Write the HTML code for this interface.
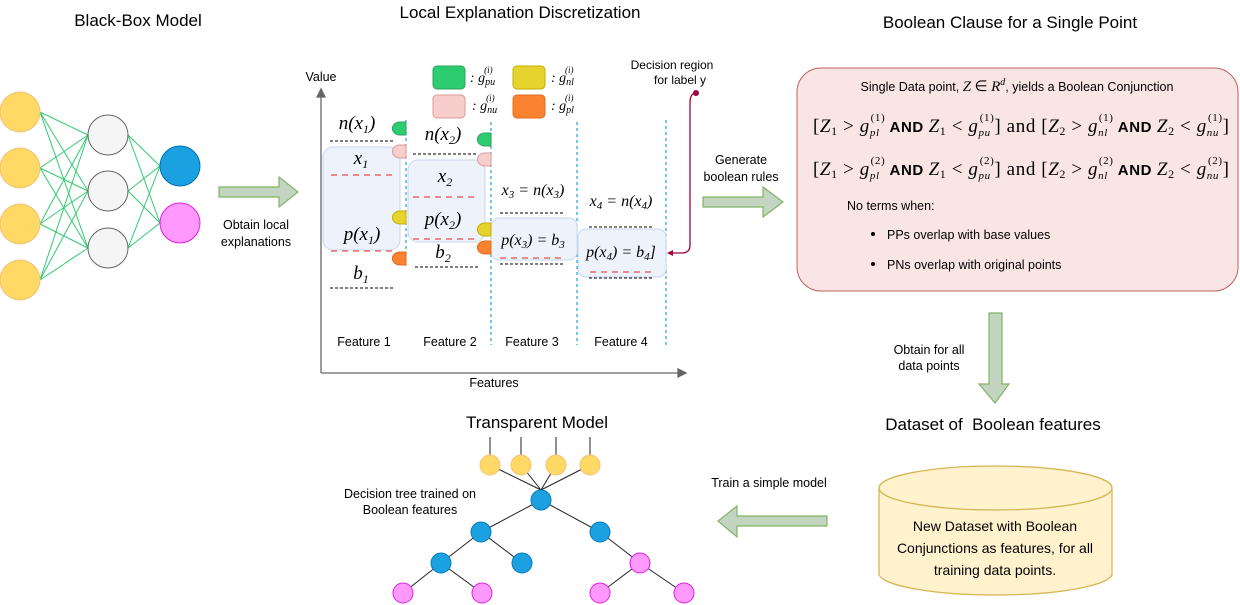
<!DOCTYPE html>
<html><head><meta charset="utf-8"><style>
body{margin:0;background:#fff}
svg{display:block;font-family:"Liberation Sans",sans-serif}
.m{font-family:"Liberation Serif",serif;font-style:italic}
.r{font-family:"Liberation Serif",serif}
.b{font-family:"Liberation Sans",sans-serif;font-style:normal;font-weight:bold}
</style></head><body>
<svg width="1240" height="605" viewBox="0 0 1240 605">
<text x="138" y="26" font-size="17" text-anchor="middle">Black-Box Model</text>
<text x="520" y="18" font-size="17" text-anchor="middle">Local Explanation Discretization</text>
<text x="1010" y="28" font-size="17" text-anchor="middle">Boolean Clause for a Single Point</text>
<text x="537" y="428" font-size="17" text-anchor="middle">Transparent Model</text>
<text x="993" y="430" font-size="17" text-anchor="middle">Dataset of&#160; Boolean features</text>

<g stroke="#2ecc71" stroke-width="1">
<line x1="40" y1="112" x2="88" y2="135"/><line x1="40" y1="112" x2="88" y2="191"/><line x1="40" y1="112" x2="88" y2="248"/>
<line x1="40" y1="168" x2="88" y2="135"/><line x1="40" y1="168" x2="88" y2="191"/><line x1="40" y1="168" x2="88" y2="248"/>
<line x1="40" y1="224" x2="88" y2="135"/><line x1="40" y1="224" x2="88" y2="191"/><line x1="40" y1="224" x2="88" y2="248"/>
<line x1="40" y1="280" x2="88" y2="135"/><line x1="40" y1="280" x2="88" y2="191"/><line x1="40" y1="280" x2="88" y2="248"/>
<line x1="128" y1="135" x2="160" y2="166"/><line x1="128" y1="135" x2="160" y2="223"/>
<line x1="128" y1="191" x2="160" y2="166"/><line x1="128" y1="191" x2="160" y2="223"/>
<line x1="128" y1="248" x2="160" y2="166"/><line x1="128" y1="248" x2="160" y2="223"/>
</g>
<g fill="#ffd966" stroke="#f5c17a" stroke-width="1">
<circle cx="20" cy="112" r="20"/><circle cx="20" cy="168" r="20"/><circle cx="20" cy="224" r="20"/><circle cx="20" cy="280" r="20"/>
</g>
<g fill="#f5f5f5" stroke="#666">
<circle cx="108" cy="135" r="20"/><circle cx="108" cy="191" r="20"/><circle cx="108" cy="248" r="20"/>
</g>
<circle cx="180" cy="166" r="20" fill="#1ba1e2" stroke="#006eaf"/>
<circle cx="180" cy="223" r="20" fill="#ff99ff" stroke="#e020e0"/>

<g fill="#c3d5c0" stroke="#82b366" stroke-width="1.2">
<polygon points="219,187 279,187 279,177 298,192 279,207 279,197 219,197"/>
<polygon points="703,197 763,197 763,187 783,202 763,217 763,207 703,207"/>
<polygon points="989,313 1002,313 1002,384 1009,384 995,403 979,384 989,384"/>
<polygon points="827,516 737,516 737,506 718,521 737,537 737,526 827,526"/>
</g>
<text x="256" y="229" font-size="12.5" text-anchor="middle">Obtain local</text>
<text x="256" y="246" font-size="12.5" text-anchor="middle">explanations</text>
<text x="741" y="164" font-size="12.5" text-anchor="middle">Generate</text>
<text x="741" y="181" font-size="12.5" text-anchor="middle">boolean rules</text>
<text x="929" y="354" font-size="12.5" text-anchor="middle">Obtain for all</text>
<text x="929" y="370" font-size="12.5" text-anchor="middle">data points</text>
<text x="769" y="487" font-size="12.5" text-anchor="middle">Train a simple model</text>

<g stroke="#666" stroke-width="1.3" fill="#666">
<line x1="321" y1="373" x2="321" y2="95"/><polygon points="317,97 321,89 325,97"/>
<line x1="321" y1="373" x2="680" y2="373"/><polygon points="678,369 686,373 678,377"/>
</g>
<text x="321" y="81" font-size="12.5" text-anchor="middle">Value</text>
<text x="494" y="387" font-size="12.5" text-anchor="middle">Features</text>
<g stroke="#1ba1e2" stroke-width="1.2" stroke-dasharray="3,3">
<line x1="406" y1="120" x2="406" y2="265"/>
<line x1="491" y1="122" x2="491" y2="345"/>
<line x1="577" y1="122" x2="577" y2="345"/>
<line x1="666" y1="120" x2="666" y2="345"/>
</g>
<g fill="#eef3fb" stroke="#c7d6ee" stroke-width="1">
<rect x="323" y="147" width="77" height="103" rx="10"/>
<rect x="408" y="160" width="77" height="82" rx="10"/>
<rect x="491" y="218" width="86" height="42" rx="8"/>
<rect x="578" y="229" width="88" height="48" rx="8"/>
</g>
<g stroke="#000" stroke-width="1" stroke-dasharray="3,2">
<line x1="330" y1="141" x2="394" y2="141"/>
<line x1="330" y1="288" x2="394" y2="288"/>
<line x1="413" y1="154" x2="478" y2="154"/>
<line x1="415" y1="267" x2="478" y2="267"/>
<line x1="500" y1="213" x2="563" y2="213"/>
<line x1="500" y1="264" x2="563" y2="264"/>
<line x1="589" y1="227" x2="653" y2="227"/>
<line x1="589" y1="278" x2="653" y2="278"/>
</g>
<g stroke="#ea6b66" stroke-width="1.5" stroke-dasharray="6,5">
<line x1="331" y1="175" x2="396" y2="175"/>
<line x1="331" y1="251" x2="396" y2="251"/>
<line x1="413" y1="197" x2="478" y2="197"/>
<line x1="413" y1="239" x2="478" y2="239"/>
<line x1="500" y1="258" x2="566" y2="258"/>
<line x1="590" y1="272" x2="656" y2="272"/>
</g>
<g stroke-width="1">
<path d="M406,122 h-6 a7,6 0 0 0 0,13 h6z" fill="#2ecc71" stroke="#2aa55e"/>
<path d="M406,145 h-6 a7,6 0 0 0 0,13 h6z" fill="#f8cecc" stroke="#d99"/>
<path d="M406,211 h-6 a7,6 0 0 0 0,13 h6z" fill="#e6d32e" stroke="#c4b000"/>
<path d="M406,252 h-6 a7,6 0 0 0 0,13 h6z" fill="#fa8230" stroke="#e06d20"/>
<path d="M491,133 h-6 a7,6 0 0 0 0,13 h6z" fill="#2ecc71" stroke="#2aa55e"/>
<path d="M491,153 h-6 a7,6 0 0 0 0,13 h6z" fill="#f8cecc" stroke="#d99"/>
<path d="M491,223 h-6 a7,6 0 0 0 0,13 h6z" fill="#e6d32e" stroke="#c4b000"/>
<path d="M491,241 h-6 a7,6 0 0 0 0,13 h6z" fill="#fa8230" stroke="#e06d20"/>
</g>
<g font-size="19">
<text x="357" y="129" class="m" text-anchor="middle">n(x<tspan font-size="12" dy="4">1</tspan><tspan dy="-4">)</tspan></text>
<text x="361" y="164" class="m" text-anchor="middle">x<tspan font-size="12" dy="4">1</tspan></text>
<text x="362" y="240" class="m" text-anchor="middle">p(x<tspan font-size="12" dy="4">1</tspan><tspan dy="-4">)</tspan></text>
<text x="361" y="279" class="m" text-anchor="middle">b<tspan font-size="12" dy="4">1</tspan></text>
<text x="443" y="140" class="m" text-anchor="middle">n(x<tspan font-size="12" dy="4">2</tspan><tspan dy="-4">)</tspan></text>
<text x="445" y="182" class="m" text-anchor="middle">x<tspan font-size="12" dy="4">2</tspan></text>
<text x="443" y="225" class="m" text-anchor="middle">p(x<tspan font-size="12" dy="4">2</tspan><tspan dy="-4">)</tspan></text>
<text x="443" y="258" class="m" text-anchor="middle">b<tspan font-size="12" dy="4">2</tspan></text>
<text x="533" y="195" font-size="16" class="m" text-anchor="middle">x<tspan font-size="11" dy="3">3</tspan><tspan dy="-3"> = n(x</tspan><tspan font-size="11" dy="3">3</tspan><tspan dy="-3">)</tspan></text>
<text x="533" y="245" font-size="16" class="m" text-anchor="middle">p(x<tspan font-size="11" dy="3">3</tspan><tspan dy="-3">) = b</tspan><tspan font-size="11" dy="3">3</tspan></text>
<text x="621" y="206" font-size="16" class="m" text-anchor="middle">x<tspan font-size="11" dy="3">4</tspan><tspan dy="-3"> = n(x</tspan><tspan font-size="11" dy="3">4</tspan><tspan dy="-3">)</tspan></text>
<text x="621" y="257" font-size="16" class="m" text-anchor="middle">p(x<tspan font-size="11" dy="3">4</tspan><tspan dy="-3">) = b</tspan><tspan font-size="11" dy="3">4</tspan><tspan dy="-3">]</tspan></text>
</g>
<g font-size="12.5" text-anchor="middle">
<text x="364" y="346">Feature 1</text><text x="450" y="346">Feature 2</text>
<text x="532" y="346">Feature 3</text><text x="621" y="346">Feature 4</text>
</g>
<rect x="433" y="66" width="32" height="23" rx="4" fill="#2ecc71" stroke="#2aa55e"/>
<rect x="513" y="66" width="32" height="23" rx="4" fill="#e6d32e" stroke="#c4b000"/>
<rect x="433" y="95" width="32" height="23" rx="4" fill="#f8cecc" stroke="#d99"/>
<rect x="513" y="95" width="32" height="23" rx="4" fill="#fa8230" stroke="#e06d20"/>
<g font-size="14" class="m">
<text x="470" y="82">: g<tspan font-size="10" dy="3">pu</tspan><tspan font-size="9" dx="-11" dy="-12">(i)</tspan></text>
<text x="551" y="82">: g<tspan font-size="10" dy="3">nl</tspan><tspan font-size="9" dx="-9" dy="-12">(i)</tspan></text>
<text x="472" y="110">: g<tspan font-size="10" dy="3">nu</tspan><tspan font-size="9" dx="-11" dy="-12">(i)</tspan></text>
<text x="551" y="110">: g<tspan font-size="10" dy="3">pl</tspan><tspan font-size="9" dx="-9" dy="-12">(i)</tspan></text>
</g>
<text x="672" y="69" font-size="12" text-anchor="middle">Decision region</text>
<text x="680" y="84" font-size="12" text-anchor="middle">for label y</text>
<path d="M696,93 Q690,93 690,103 L690,245 Q690,253 682,253 L670,253" fill="none" stroke="#a50040" stroke-width="1.3"/>
<circle cx="696" cy="93" r="3" fill="#a50040"/>
<polygon points="667,253 673,250 673,256" fill="#a50040"/>

<rect x="797" y="68" width="441" height="223" rx="24" fill="#fae5e5" stroke="#c06060" stroke-width="1"/>
<text x="1017" y="91" font-size="12.5" text-anchor="middle">Single Data point, <tspan class="m" font-size="15">Z</tspan> <tspan class="r" font-size="15">∈</tspan> <tspan class="m" font-size="15">R</tspan><tspan class="m" font-size="10" dy="-6">d</tspan><tspan dy="6">, yields a Boolean Conjunction</tspan></text>
<g font-size="19" class="r">
<text x="813" y="132" textLength="416" lengthAdjust="spacing">[<tspan class="m">Z</tspan><tspan font-size="12" dy="3">1</tspan><tspan dy="-3"> &gt; </tspan><tspan class="m">g</tspan><tspan font-size="11" class="m" dy="4">pl</tspan><tspan font-size="11" dx="-9" dy="-15">(1)</tspan><tspan dy="11" class="b" font-size="15"> AND </tspan><tspan class="m">Z</tspan><tspan font-size="12" dy="3">1</tspan><tspan dy="-3"> &lt; </tspan><tspan class="m">g</tspan><tspan font-size="11" class="m" dy="4">pu</tspan><tspan font-size="11" dx="-11" dy="-15">(1)</tspan><tspan dy="11">] and [</tspan><tspan class="m">Z</tspan><tspan font-size="12" dy="3">2</tspan><tspan dy="-3"> &gt; </tspan><tspan class="m">g</tspan><tspan font-size="11" class="m" dy="4">nl</tspan><tspan font-size="11" dx="-9" dy="-15">(1)</tspan><tspan dy="11" class="b" font-size="15"> AND </tspan><tspan class="m">Z</tspan><tspan font-size="12" dy="3">2</tspan><tspan dy="-3"> &lt; </tspan><tspan class="m">g</tspan><tspan font-size="11" class="m" dy="4">nu</tspan><tspan font-size="11" dx="-11" dy="-15">(1)</tspan><tspan dy="11">]</tspan></text>
<text x="813" y="175" textLength="416" lengthAdjust="spacing">[<tspan class="m">Z</tspan><tspan font-size="12" dy="3">1</tspan><tspan dy="-3"> &gt; </tspan><tspan class="m">g</tspan><tspan font-size="11" class="m" dy="4">pl</tspan><tspan font-size="11" dx="-9" dy="-15">(2)</tspan><tspan dy="11" class="b" font-size="15"> AND </tspan><tspan class="m">Z</tspan><tspan font-size="12" dy="3">1</tspan><tspan dy="-3"> &lt; </tspan><tspan class="m">g</tspan><tspan font-size="11" class="m" dy="4">pu</tspan><tspan font-size="11" dx="-11" dy="-15">(2)</tspan><tspan dy="11">] and [</tspan><tspan class="m">Z</tspan><tspan font-size="12" dy="3">2</tspan><tspan dy="-3"> &gt; </tspan><tspan class="m">g</tspan><tspan font-size="11" class="m" dy="4">nl</tspan><tspan font-size="11" dx="-9" dy="-15">(2)</tspan><tspan dy="11" class="b" font-size="15"> AND </tspan><tspan class="m">Z</tspan><tspan font-size="12" dy="3">2</tspan><tspan dy="-3"> &lt; </tspan><tspan class="m">g</tspan><tspan font-size="11" class="m" dy="4">nu</tspan><tspan font-size="11" dx="-11" dy="-15">(2)</tspan><tspan dy="11">]</tspan></text>
</g>
<text x="847" y="210" font-size="12.5">No terms when:</text>
<circle cx="873" cy="234" r="2" fill="#000"/>
<text x="887" y="239" font-size="12.5">PPs overlap with base values</text>
<circle cx="873" cy="264" r="2" fill="#000"/>
<text x="887" y="269" font-size="12.5">PNs overlap with original points</text>

<path d="M879,488 L879,575 A117,22 0 0 0 1112,575 L1112,488" fill="#fff2cc" stroke="#d6b656" stroke-width="1.3"/>
<ellipse cx="995.5" cy="488" rx="116.5" ry="22" fill="#fff2cc" stroke="#d6b656" stroke-width="1.3"/>
<g font-size="14" text-anchor="middle">
<text x="995" y="531">New Dataset with Boolean</text>
<text x="995" y="553">Conjunctions as features, for all</text>
<text x="995" y="575">training data points.</text>
</g>

<g stroke="#222" stroke-width="1">
<line x1="490" y1="437" x2="490" y2="455"/><line x1="521" y1="437" x2="521" y2="455"/>
<line x1="556" y1="437" x2="556" y2="455"/><line x1="590" y1="437" x2="590" y2="455"/>
<line x1="490" y1="465" x2="541" y2="490"/><line x1="521" y1="465" x2="541" y2="490"/>
<line x1="556" y1="465" x2="541" y2="490"/><line x1="590" y1="465" x2="541" y2="490"/>
<line x1="541" y1="500" x2="481" y2="532"/><line x1="541" y1="500" x2="600" y2="532"/>
<line x1="481" y1="532" x2="441" y2="563"/><line x1="481" y1="532" x2="522" y2="563"/>
<line x1="600" y1="532" x2="640" y2="563"/>
<line x1="441" y1="563" x2="403" y2="593"/><line x1="441" y1="563" x2="482" y2="593"/>
<line x1="640" y1="563" x2="600" y2="593"/><line x1="640" y1="563" x2="684" y2="593"/>
</g>
<g fill="#ffd966" stroke="#f5c17a">
<circle cx="490" cy="465" r="10"/><circle cx="521" cy="465" r="10"/><circle cx="556" cy="465" r="10"/><circle cx="590" cy="465" r="10"/>
</g>
<g fill="#1ba1e2" stroke="#0a7bb5">
<circle cx="541" cy="500" r="10"/><circle cx="481" cy="532" r="10"/><circle cx="600" cy="532" r="10"/>
<circle cx="441" cy="563" r="10"/><circle cx="522" cy="563" r="10"/>
</g>
<g fill="#ff99ff" stroke="#e020e0">
<circle cx="640" cy="563" r="10"/><circle cx="403" cy="593" r="10"/><circle cx="482" cy="593" r="10"/>
<circle cx="600" cy="593" r="10"/><circle cx="684" cy="593" r="10"/>
</g>
<text x="410" y="498" font-size="12.5" text-anchor="middle">Decision tree trained on</text>
<text x="410" y="514" font-size="12.5" text-anchor="middle">Boolean features</text>
</svg>
</body></html>
